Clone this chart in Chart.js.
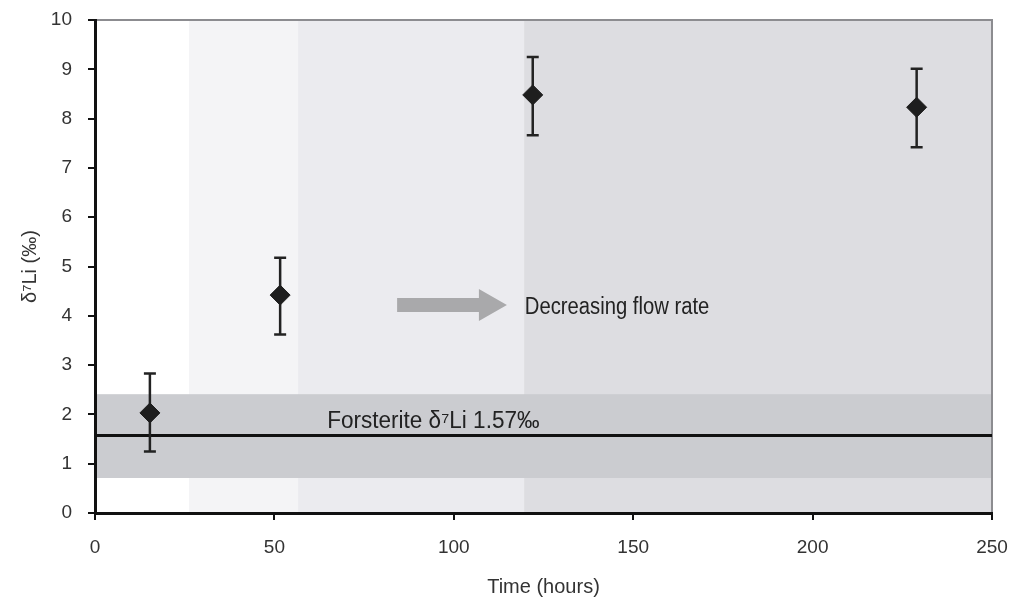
<!DOCTYPE html>
<html>
<head>
<meta charset="utf-8">
<script src="https://cdn.jsdelivr.net/npm/chart.js@4/dist/chart.umd.min.js"></script>
<style>
  body { margin: 0; background: #fff; }
</style>
</head>
<body>
<canvas id="chart" width="1015" height="603"></canvas>
<script>
// measured lithium isotope values vs time
const timeHours = [15.3, 51.6, 122, 229];
const delta7Li = [2.03, 4.42, 8.48, 8.23];
const errLow = [1.25, 3.62, 7.66, 7.42];
const errHigh = [2.83, 5.18, 9.25, 9.01];

// flow-rate phases (hours) and forsterite reference
const phaseEdges = [0, 26.2, 56.6, 119.6, 250];
const forsteriteLi = 1.57;
const forsteriteRange = [0.71, 2.41];

// annotations
const arrowFrom = [84.2, 4.22];
const arrowTo = [114.8, 4.22];
const flowText = 'Decreasing flow rate';
const flowTextAt = [119.8, 4.17];
const forsteriteText = 'Forsterite \u03B4\u2077Li 1.57\u2030';
const forsteriteTextAt = [64.7, 1.86];

const sans = "'Liberation Sans', Arial, sans-serif";
const phaseColors = ['#ffffff', '#f4f4f6', '#ebebef', '#dddde1'];

// draw squeezed text, like the narrow face of the original
function narrowText(ctx, text, x, y, sx) {
  ctx.save();
  ctx.translate(x, y);
  ctx.scale(sx, 1);
  ctx.fillText(text, 0, 0);
  ctx.restore();
}

const backdrop = {
  id: 'backdrop',
  beforeDraw(chart) {
    const {ctx, chartArea: a, scales: {x, y}} = chart;
    ctx.save();
    for (let i = 0; i < phaseEdges.length - 1; i++) {
      const x0 = x.getPixelForValue(phaseEdges[i]);
      const x1 = x.getPixelForValue(phaseEdges[i + 1]);
      ctx.fillStyle = phaseColors[i];
      ctx.fillRect(x0, a.top, x1 - x0, a.bottom - a.top);
    }
    const yTop = y.getPixelForValue(forsteriteRange[1]);
    const yBot = y.getPixelForValue(forsteriteRange[0]);
    ctx.fillStyle = '#cbccd0';
    ctx.fillRect(a.left, yTop, a.right - a.left, yBot - yTop);
    // top and right frame
    ctx.strokeStyle = '#8c8c90';
    ctx.lineWidth = 2;
    ctx.beginPath();
    ctx.moveTo(a.left, a.top);
    ctx.lineTo(a.right, a.top);
    ctx.lineTo(a.right, a.bottom);
    ctx.stroke();
    ctx.restore();
  },
  beforeDatasetsDraw(chart) {
    const {ctx, chartArea: a, scales: {x, y}} = chart;
    ctx.save();
    // forsterite line
    const yl = y.getPixelForValue(forsteriteLi);
    ctx.strokeStyle = '#111';
    ctx.lineWidth = 3;
    ctx.beginPath();
    ctx.moveTo(a.left, yl);
    ctx.lineTo(a.right, yl);
    ctx.stroke();

    // arrow
    const ax0 = x.getPixelForValue(arrowFrom[0]);
    const ax1 = x.getPixelForValue(arrowTo[0]);
    const ay = y.getPixelForValue(arrowFrom[1]);
    const headLen = 28, shaft = 7, head = 16;
    ctx.fillStyle = '#a9a9ab';
    ctx.beginPath();
    ctx.moveTo(ax0, ay - shaft);
    ctx.lineTo(ax1 - headLen, ay - shaft);
    ctx.lineTo(ax1 - headLen, ay - head);
    ctx.lineTo(ax1, ay);
    ctx.lineTo(ax1 - headLen, ay + head);
    ctx.lineTo(ax1 - headLen, ay + shaft);
    ctx.lineTo(ax0, ay + shaft);
    ctx.closePath();
    ctx.fill();

    // texts
    ctx.fillStyle = '#222';
    ctx.textBaseline = 'middle';
    ctx.textAlign = 'left';
    ctx.font = '23px ' + sans;
    narrowText(ctx, flowText, x.getPixelForValue(flowTextAt[0]), y.getPixelForValue(flowTextAt[1]), 0.88);
    narrowText(ctx, forsteriteText, x.getPixelForValue(forsteriteTextAt[0]), y.getPixelForValue(forsteriteTextAt[1]), 0.98);

    // error bars
    ctx.strokeStyle = '#222';
    ctx.lineWidth = 2.5;
    for (let i = 0; i < timeHours.length; i++) {
      const px = x.getPixelForValue(timeHours[i]);
      const lo = y.getPixelForValue(errLow[i]);
      const hi = y.getPixelForValue(errHigh[i]);
      ctx.beginPath();
      ctx.moveTo(px, lo); ctx.lineTo(px, hi);
      ctx.moveTo(px - 6, lo); ctx.lineTo(px + 6, lo);
      ctx.moveTo(px - 6, hi); ctx.lineTo(px + 6, hi);
      ctx.stroke();
    }
    ctx.restore();
  }
};

new Chart(document.getElementById('chart'), {
  type: 'scatter',
  data: {
    datasets: [{
      label: 'delta7Li',
      data: timeHours.map((t, i) => ({x: t, y: delta7Li[i]})),
      pointStyle: 'rectRot',
      pointRadius: 10,
      backgroundColor: '#1e1e1e',
      borderColor: '#1e1e1e',
      borderWidth: 1
    }]
  },
  options: {
    responsive: false,
    animation: false,
    layout: {padding: {top: 20, right: 23, left: 0, bottom: 0}},
    plugins: {legend: {display: false}, tooltip: {enabled: false}},
    scales: {
      x: {
        type: 'linear', min: 0, max: 250,
        ticks: {stepSize: 50, color: '#333', padding: 16, font: {family: sans, size: 19}},
        grid: {drawOnChartArea: false, tickLength: 7, color: '#111', lineWidth: 2},
        border: {color: '#111', width: 3},
        title: {display: true, text: 'Time (hours)', color: '#333', font: {family: sans, size: 20}, padding: {top: 0, bottom: 4}},
        afterFit: s => { s.height = 90; s.paddingLeft = 0; s.paddingRight = 0; }
      },
      y: {
        min: 0, max: 10,
        ticks: {stepSize: 1, color: '#333', padding: 16, font: {family: sans, size: 19}},
        grid: {drawOnChartArea: false, tickLength: 7, color: '#111', lineWidth: 2},
        border: {color: '#111', width: 3},
        title: {display: true, text: '\u03B4\u2077Li (\u2030)', color: '#333', font: {family: sans, size: 20}, padding: {top: 18, bottom: 0}},
        afterFit: s => { s.width = 95; s.paddingTop = 0; s.paddingBottom = 0; }
      }
    }
  },
  plugins: [backdrop]
});
</script>
</body>
</html>
